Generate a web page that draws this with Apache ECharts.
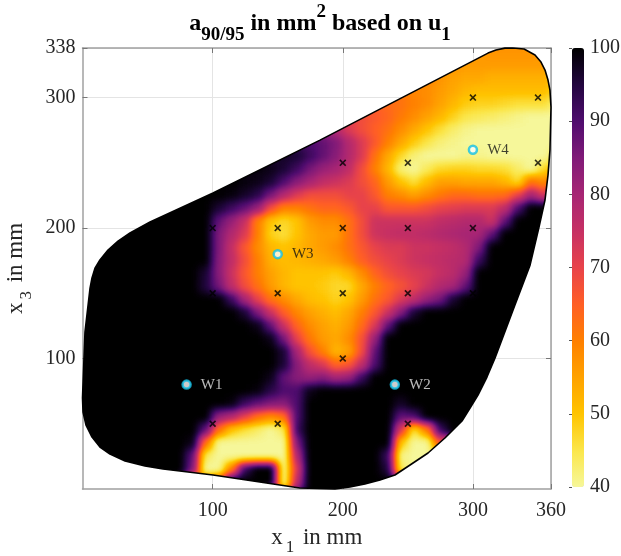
<!DOCTYPE html>
<html><head><meta charset="utf-8">
<style>html,body{margin:0;padding:0;background:#fff}#c{width:621px;height:556px}</style>
<script src="https://cdn.jsdelivr.net/npm/echarts@6/dist/echarts.min.js"></script>
</head><body><div id="c"></div>
<svg width="0" height="0" style="position:absolute"><filter id="shade" x="0" y="0" width="100%" height="100%" color-interpolation-filters="sRGB"><feGaussianBlur id="sb" stdDeviation="4"/><feComponentTransfer><feFuncR id="fr" type="table"/><feFuncG id="fg" type="table"/><feFuncB id="fb" type="table"/></feComponentTransfer></filter></svg>
<script>
const _ = null, B = 100;
// a90/95 on a 10 mm raster, top row (x3 = 335) first, columns x1 = 5 ... 355
const x1Centers = [5,15,25,35,45,55,65,75,85,95,105,115,125,135,145,155,165,175,185,195,205,215,225,235,245,255,265,275,285,295,305,315,325,335,345,355];
const x3Centers = [335,325,315,305,295,285,275,265,255,245,235,225,215,205,195,185,175,165,155,145,135,125,115,105,95,85,75,65,55,45,35,25,15,5];
const row335 = [_,_,_,_,_,_,_,_,_,_,_,_,_,_,_,_,_,_,_,_,_,_,_,_,_,_,_,_,_,_,_,57,57,57,57,_];
const row325 = [_,_,_,_,_,_,_,_,_,_,_,_,_,_,_,_,_,_,_,_,_,_,_,_,_,_,_,_,57,56,56,56,56,56,56,56];
const row315 = [_,_,_,_,_,_,_,_,_,_,_,_,_,_,_,_,_,_,_,_,_,_,_,_,_,_,60,57,55,54,54,53,53,53,53,53];
const row305 = [_,_,_,_,_,_,_,_,_,_,_,_,_,_,_,_,_,_,_,_,_,_,_,_,61,59,58,56,54,52,51,51,51,51,51,51];
const row295 = [_,_,_,_,_,_,_,_,_,_,_,_,_,_,_,_,_,_,_,_,_,_,65,63,62,60,58,55,52,49,48,48,47,46,46,46];
const row285 = [_,_,_,_,_,_,_,_,_,_,_,_,_,_,_,_,_,_,_,_,70,68,66,64,61,58,55,52,48,45,44,43,42,41,40,40];
const row275 = [_,_,_,_,_,_,_,_,_,_,_,_,_,_,_,_,_,_,82,78,72,68,65,62,58,54,50,46,43,41,40,40,40,40,40,40];
const row265 = [_,_,_,_,_,_,_,_,_,_,_,_,_,_,_,_,92,90,88,85,78,72,66,60,54,49,45,42,41,40,40,40,40,40,40,40];
const row255 = [_,_,_,_,_,_,_,_,_,_,_,_,_,_,_,97,96,92,88,84,78,72,62,54,47,42,40,40,40,41,41,40,40,40,40,40];
const row245 = [_,_,_,_,_,_,_,_,_,_,_,_,_,99,98,96,92,86,82,80,76,68,60,52,42,40,44,47,48,48,47,47,46,43,40,47];
const row235 = [_,_,_,_,_,_,_,_,_,_,_,B,99,98,96,90,84,80,76,74,72,68,64,56,50,46,51,55,55,54,54,54,52,47,62,58];
const row225 = [_,_,_,_,_,_,_,_,_,B,B,99,97,94,86,78,72,68,68,68,70,70,66,60,58,55,58,61,63,63,62,62,63,70,80,72];
const row215 = [_,_,_,_,_,_,_,B,B,B,96,92,88,82,68,60,60,62,64,64,66,70,70,66,66,66,68,70,71,72,72,72,76,90,B,B];
const row205 = [_,_,_,_,_,B,B,B,B,B,88,82,75,60,50,47,50,56,58,58,62,68,74,74,74,74,74,76,77,78,78,74,88,B,B,B];
const row195 = [_,_,B,B,B,B,B,B,B,B,85,78,72,60,48,46,50,54,56,56,62,68,74,75,76,76,77,78,79,80,80,88,B,B,B,_];
const row185 = [_,B,B,B,B,B,B,B,B,B,85,75,66,58,52,50,52,54,56,58,62,66,70,72,72,74,74,75,76,78,85,B,B,B,B,_];
const row175 = [B,B,B,B,B,B,B,B,B,B,84,76,68,60,53,51,52,53,54,56,60,65,68,70,72,74,75,76,77,78,92,B,B,B,B,_];
const row165 = [B,B,B,B,B,B,B,B,B,96,84,74,66,60,55,52,50,50,50,49,52,58,64,68,70,72,73,75,77,82,B,B,B,B,B,_];
const row155 = [B,B,B,B,B,B,B,B,B,95,86,76,68,62,56,52,50,50,49,47,47,54,60,64,67,70,74,78,80,88,B,B,B,B,_,_];
const row145 = [B,B,B,B,B,B,B,B,B,B,B,92,80,70,62,58,54,51,50,48,50,56,62,66,72,76,82,86,96,B,B,B,B,B,_,_];
const row135 = [B,B,B,B,B,B,B,B,B,B,B,B,96,85,74,65,59,55,53,51,54,60,66,74,84,96,B,B,B,B,B,B,B,B,_,_];
const row125 = [B,B,B,B,B,B,B,B,B,B,B,B,B,98,88,74,64,58,55,53,56,63,72,88,B,B,B,B,B,B,B,B,B,_,_,_];
const row115 = [B,B,B,B,B,B,B,B,B,B,B,B,B,B,98,86,70,61,56,54,58,67,82,B,B,B,B,B,B,B,B,B,B,_,_,_];
const row105 = [B,B,B,B,B,B,B,B,B,B,B,B,B,B,B,96,80,67,60,52,55,68,88,B,B,B,B,B,B,B,B,B,_,_,_,_];
const row095 = [B,B,B,B,B,B,B,B,B,B,B,B,B,B,B,96,84,76,72,64,66,76,90,B,B,B,B,B,B,B,B,B,_,_,_,_];
const row085 = [B,B,B,B,B,B,B,B,B,B,B,B,B,B,98,88,84,82,84,80,82,92,B,B,B,B,B,B,B,B,B,B,_,_,_,_];
const row075 = [B,B,B,B,B,B,B,B,B,B,B,B,B,99,94,90,90,98,B,B,B,B,B,B,B,B,B,B,B,B,B,_,_,_,_,_];
const row065 = [B,B,B,B,B,B,B,B,B,B,B,99,92,88,85,84,90,B,B,B,B,B,B,B,97,B,B,B,B,B,B,_,_,_,_,_];
const row055 = [B,B,B,B,B,B,B,B,B,B,82,78,70,62,58,62,90,B,B,B,B,B,B,B,88,90,B,B,B,B,_,_,_,_,_,_];
const row045 = [B,B,B,B,B,B,B,B,B,88,62,50,46,43,40,44,92,B,B,B,B,B,B,B,72,46,60,92,B,_,_,_,_,_,_,_];
const row035 = [B,B,B,B,B,B,B,B,98,62,40,40,40,40,40,40,85,B,B,B,B,B,B,B,50,40,40,66,_,_,_,_,_,_,_,_];
const row025 = [_,B,B,B,B,B,B,B,88,44,40,40,40,40,40,40,78,B,B,B,B,B,B,92,41,40,40,_,_,_,_,_,_,_,_,_];
const row015 = [_,_,_,_,B,B,B,B,85,40,40,60,92,B,B,40,72,B,B,B,B,B,B,95,44,40,_,_,_,_,_,_,_,_,_,_];
const row005 = [_,_,_,_,_,_,_,_,_,_,70,B,B,B,B,40,76,B,B,B,B,B,B,B,_,_,_,_,_,_,_,_,_,_,_,_];
const rows = [row335,row325,row315,row305,row295,row285,row275,row265,row255,row245,row235,row225,row215,row205,row195,row185,row175,row165,row155,row145,row135,row125,row115,row105,row095,row085,row075,row065,row055,row045,row035,row025,row015,row005];

// outline of the measured domain
const outlineX = [330.8,339.3,347.7,352.3,355.4,357.7,359.2,360,359.2,357.7,355.4,350.8,343.9,332.3,317,310.8,303.9,297.8,291.6,278.5,265.5,251.7,240.1,228.6,217,205.5,194,167,100.3,61.9,48,32.7,21.1,13.4,7.3,2.7,0.4,0,1.9,5.8,7.3,9.6,13.4,19.6,27.3,36.5,51.9,100.3,182.5,311.6,317.7,324.6,330.8];
const outlineY = [338,337.2,332.6,327.2,321.1,313.4,305.7,292.7,259.8,240.6,221.5,200.8,171.6,141,100.4,85.8,72,62.1,52.1,39.1,27.6,18.4,10.7,6.9,3.8,1.5,0,0.8,10.7,15.3,17.6,21.5,26.8,32.2,39.8,49,59,69.7,120.3,154,161.7,169.3,175.5,183.1,190,196.2,204.6,226.8,267.4,334.1,336.4,337.9,338];

const crossX = [100,150,200,250,300,100,150,200,250,300,200,250,350,300,350,200,100,150,250];
const crossY = [200,200,200,200,200,150,150,150,150,150,250,250,250,300,300,100,50,50,50];
const weldNames = ['W1','W2','W3','W4'];
const weldX = [80,240,150,300];
const weldY = [80,80,180,260];
const weldLabelColors = ['#e8e8e8','#e8e8e8','#111','#111'];

const xTicks = [100,200,300,360];
const yTicks = [100,200,300,338];
const barColors = ['#f6f79a','#fbe64a','#ffc400','#ffa200','#ff8000','#ff5e26','#e8434a','#c63064','#a72574','#801a78','#4f0c6e','#22063f','#000000'];

const cells = [];
x3Centers.forEach((y,r)=>x1Centers.forEach((x,c)=>{ if(rows[r][c]!==null) cells.push([x,y,rows[r][c]]); }));
const outline = outlineX.map((x,i)=>[x,outlineY[i]]);

const font = 'Liberation Serif';
const tickColor = '#262626';
const frame = '#a0a0a0';
const xSym = 'path://M1 0L3 2L5 0L6 1L4 3L6 5L5 6L3 4L1 6L0 5L2 3L0 1Z';

// interpolated shading, like the original: the raster layer is drawn as value-coded grey,
// smoothed, and mapped to the colour scale by an SVG filter.
const channel = (i)=>barColors.map(c=>(parseInt(c.substr(1+2*i,2),16)/255).toFixed(3)).join(' ');
document.getElementById('fr').setAttribute('tableValues',channel(0));
document.getElementById('fg').setAttribute('tableValues',channel(1));
document.getElementById('fb').setAttribute('tableValues',channel(2));

const cellItem = (half)=>function(params,api){
  const x=api.value(0),y=api.value(1);
  const a=api.coord([x-half,y+half]),b=api.coord([x+half,y-half]);
  return {type:'rect',shape:{x:a[0]-0.5,y:a[1]-0.5,width:b[0]-a[0]+1,height:b[1]-a[1]+1},style:{fill:api.visual('color')}};
};

const chart = echarts.init(document.getElementById('c'),null,{renderer:'canvas'});
chart.setOption({
  animation:false,
  backgroundColor:'#fff',
  title:{
    left:315, textAlign:'center', top:-3,
    text:'{m|a}{s|90/95}{m| in mm}{u|2}{m| based on u}{s|1}',
    textStyle:{ rich:{
      m:{fontFamily:font,fontWeight:'bold',fontSize:24,color:'#000'},
      s:{fontFamily:font,fontWeight:'bold',fontSize:19,color:'#000',padding:[24,0,0,0]},
      u:{fontFamily:font,fontWeight:'bold',fontSize:19,color:'#000',padding:[0,0,22,0]}
    }}
  },
  grid:[
    {left:82.5,top:48,width:468.5,height:441,outerBoundsMode:'none'},
    {left:572,top:48,width:12,height:439,outerBoundsMode:'none'}
  ],
  xAxis:[
    {type:'value',gridIndex:0,min:0,max:360,position:'bottom',
      axisLine:{show:true,onZero:false,lineStyle:{color:frame,width:1.5}},
      axisTick:{show:true,inside:true,length:5,customValues:xTicks,lineStyle:{color:'#777'}},
      axisLabel:{show:true,customValues:xTicks,margin:12,fontFamily:font,fontSize:20,color:tickColor},
      splitLine:{show:true,lineStyle:{color:'#e4e4e4',width:1}},
      name:'{t|x}{d|1}{t| in mm}',nameLocation:'middle',nameGap:30,
      nameTextStyle:{rich:{t:{fontFamily:font,fontSize:23,color:tickColor},d:{fontFamily:font,fontSize:17,color:tickColor,padding:[20,3,0,3]}}},
    },
    {type:'value',gridIndex:0,min:0,max:360,position:'top',
      axisLine:{show:true,onZero:false,lineStyle:{color:frame,width:1.5}},
      axisTick:{show:true,inside:true,length:5,customValues:xTicks,lineStyle:{color:'#777'}},
      axisLabel:{show:false},splitLine:{show:false}},
    {type:'value',gridIndex:1,min:0,max:1,show:false}
  ],
  yAxis:[
    {type:'value',gridIndex:0,min:0,max:338,position:'left',
      axisLine:{show:true,onZero:false,lineStyle:{color:frame,width:1.5}},
      axisTick:{show:true,inside:true,length:5,customValues:yTicks,lineStyle:{color:'#777'}},
      axisLabel:{show:true,customValues:yTicks,margin:7,fontFamily:font,fontSize:20,color:tickColor},
      splitLine:{show:true,lineStyle:{color:'#e4e4e4',width:1}},
      name:'{t|x}{d|3}{t| in mm}',nameLocation:'middle',nameGap:43,nameRotate:90,
      nameTextStyle:{rich:{t:{fontFamily:font,fontSize:23,color:tickColor},d:{fontFamily:font,fontSize:17,color:tickColor,padding:[20,3,0,3]}}},
    },
    {type:'value',gridIndex:0,min:0,max:338,position:'right',
      axisLine:{show:true,onZero:false,lineStyle:{color:frame,width:1.5}},
      axisTick:{show:true,inside:true,length:5,customValues:yTicks,lineStyle:{color:'#777'}},
      axisLabel:{show:false},splitLine:{show:false}},
    {type:'value',gridIndex:1,min:40,max:100,interval:10,position:'right',z:6,
      axisLine:{show:false},
      axisTick:{show:true,inside:true,length:3,lineStyle:{color:'#555'}},
      axisLabel:{show:true,margin:6,fontFamily:font,fontSize:20,color:tickColor},
      splitLine:{show:false}}
  ],
  visualMap:[
    {type:'continuous',min:40,max:100,seriesIndex:[0,1],dimension:2,show:false,inRange:{color:['#000000','#ffffff']}},
    {type:'continuous',min:40,max:100,seriesIndex:2,dimension:1,
      left:572,top:48,itemWidth:12,itemHeight:439,padding:0,
      calculable:false,text:null,showLabel:false,
      inRange:{color:barColors},textStyle:{fontSize:0}}
  ],
  series:[
    {type:'custom',name:'a90/95 underlay',coordinateSystem:'cartesian2d',xAxisIndex:0,yAxisIndex:0,
      data:cells,encode:{x:0,y:1},zlevel:1,z:1,silent:true,clip:false,renderItem:cellItem(15)},
    {type:'custom',name:'a90/95',coordinateSystem:'cartesian2d',xAxisIndex:0,yAxisIndex:0,
      data:cells,encode:{x:0,y:1},zlevel:1,z:2,silent:true,clip:false,renderItem:cellItem(5)},
    {type:'scatter',name:'scale',xAxisIndex:2,yAxisIndex:2,data:[],silent:true},
    {type:'line',xAxisIndex:0,yAxisIndex:0,data:outline,symbol:'none',silent:true,zlevel:2,z:3,clip:false,
      lineStyle:{color:'#000',width:1.6}},
    {type:'scatter',xAxisIndex:0,yAxisIndex:0,data:crossX.map((x,i)=>[x,crossY[i]]),symbol:xSym,symbolSize:7,zlevel:2,z:4,silent:true,
      itemStyle:{color:'#000'}},
    {type:'scatter',xAxisIndex:0,yAxisIndex:0,zlevel:2,z:5,silent:true,symbol:'circle',symbolSize:8,
      data:weldNames.map((n,i)=>({name:n,value:[weldX[i],weldY[i]],
        label:{show:true,position:'right',distance:9,formatter:n,fontFamily:font,fontSize:15,color:weldLabelColors[i]}})),
      itemStyle:{color:'#fff',borderColor:'#12bfe6',borderWidth:2.5}}
  ]
});
const layer = chart.getDom().querySelector('canvas[data-zr-dom-id="zr_1"]');
if(layer){
  const pts = outline.map(p=>chart.convertToPixel({xAxisIndex:0,yAxisIndex:0},p));
  layer.style.filter='url(#shade)';
  layer.style.clipPath='polygon('+pts.map(p=>p[0].toFixed(1)+'px '+p[1].toFixed(1)+'px').join(',')+')';
}
</script></body></html>
